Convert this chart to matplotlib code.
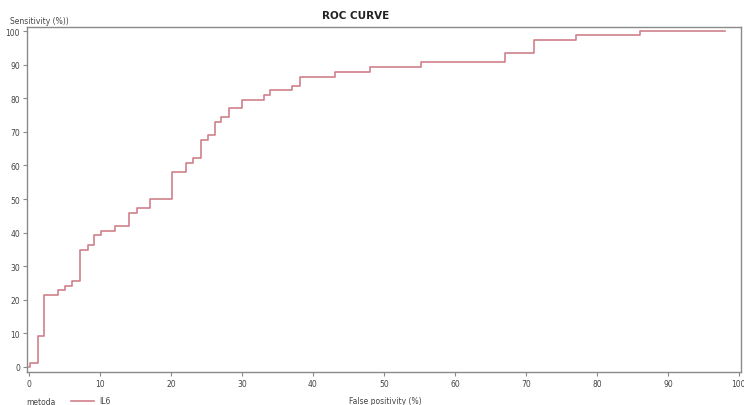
import matplotlib
matplotlib.use("Agg")
import matplotlib.pyplot as plt
from matplotlib.lines import Line2D

# ROC steps: false positivity (%) where sensitivity jumps, and the new sensitivity (%)
fpr = [0, 0.1, 1.2, 2.1, 4.1, 5.1, 6.1, 7.2, 8.3, 9.2, 10.1, 12.1, 14.1, 15.2,
       17.1, 20.1, 22.1, 23.1, 24.2, 25.2, 26.2, 27.1, 28.2, 30.0, 33.1, 34.0,
       37.1, 38.2, 43.1, 48.1, 55.2, 67.1, 71.1, 77.0, 86.1, 98.0]
sens = [0, 1.2, 9.3, 21.5, 23.0, 24.0, 25.7, 34.9, 36.4, 39.3, 40.4, 41.9, 45.8,
        47.2, 50.0, 58.1, 60.6, 62.2, 67.7, 69.1, 72.8, 74.5, 77.1, 79.6, 81.0,
        82.4, 83.5, 86.4, 87.7, 89.4, 90.7, 93.4, 97.4, 98.8, 100.0, 100.0]
ticks = list(range(0, 101, 10))

line_color = "#d0808a"
axis_color = "#8a8a8a"
text_color = "#444444"

fig = plt.figure(figsize=(7.44, 4.06), dpi=100)
ax = fig.add_axes([27 / 744, 33.3 / 406, 714 / 744, 344.7 / 406])

ax.step(fpr, sens, where="post", color=line_color, linewidth=1.2)

ax.set_xlim(-0.28, 100.3)
ax.set_ylim(-1.4, 101.2)
ax.set_xticks(ticks)
ax.set_yticks(ticks)
ax.tick_params(axis="both", length=3, width=0.8, color=axis_color,
               labelsize=5.5, labelcolor=text_color, pad=2)
for sp in ax.spines.values():
    sp.set_color(axis_color)
    sp.set_linewidth(1.0)

fig.text(356 / 744, 1 - 16 / 406, "ROC CURVE", ha="center", va="center",
         fontsize=7.5, fontweight="bold", color="#222222")
fig.text(10 / 744, 1 - 21 / 406, "Sensitivity (%))", ha="left", va="center",
         fontsize=5.5, color=text_color)
fig.text(385 / 744, 1 - 401.5 / 406, "False positivity (%)", ha="center",
         va="center", fontsize=5.5, color=text_color)

# legend row along the bottom
fig.text(26 / 744, 1 - 402.5 / 406, "metoda", ha="left", va="center",
         fontsize=5.5, color=text_color)
fig.add_artist(Line2D([71 / 744, 94 / 744], [1 - 401.5 / 406, 1 - 401.5 / 406],
                      color=line_color, linewidth=1.2, transform=fig.transFigure))
fig.text(99 / 744, 1 - 402 / 406, "IL6", ha="left", va="center",
         fontsize=5.5, color=text_color)

fig.savefig("out.png", dpi=100)
